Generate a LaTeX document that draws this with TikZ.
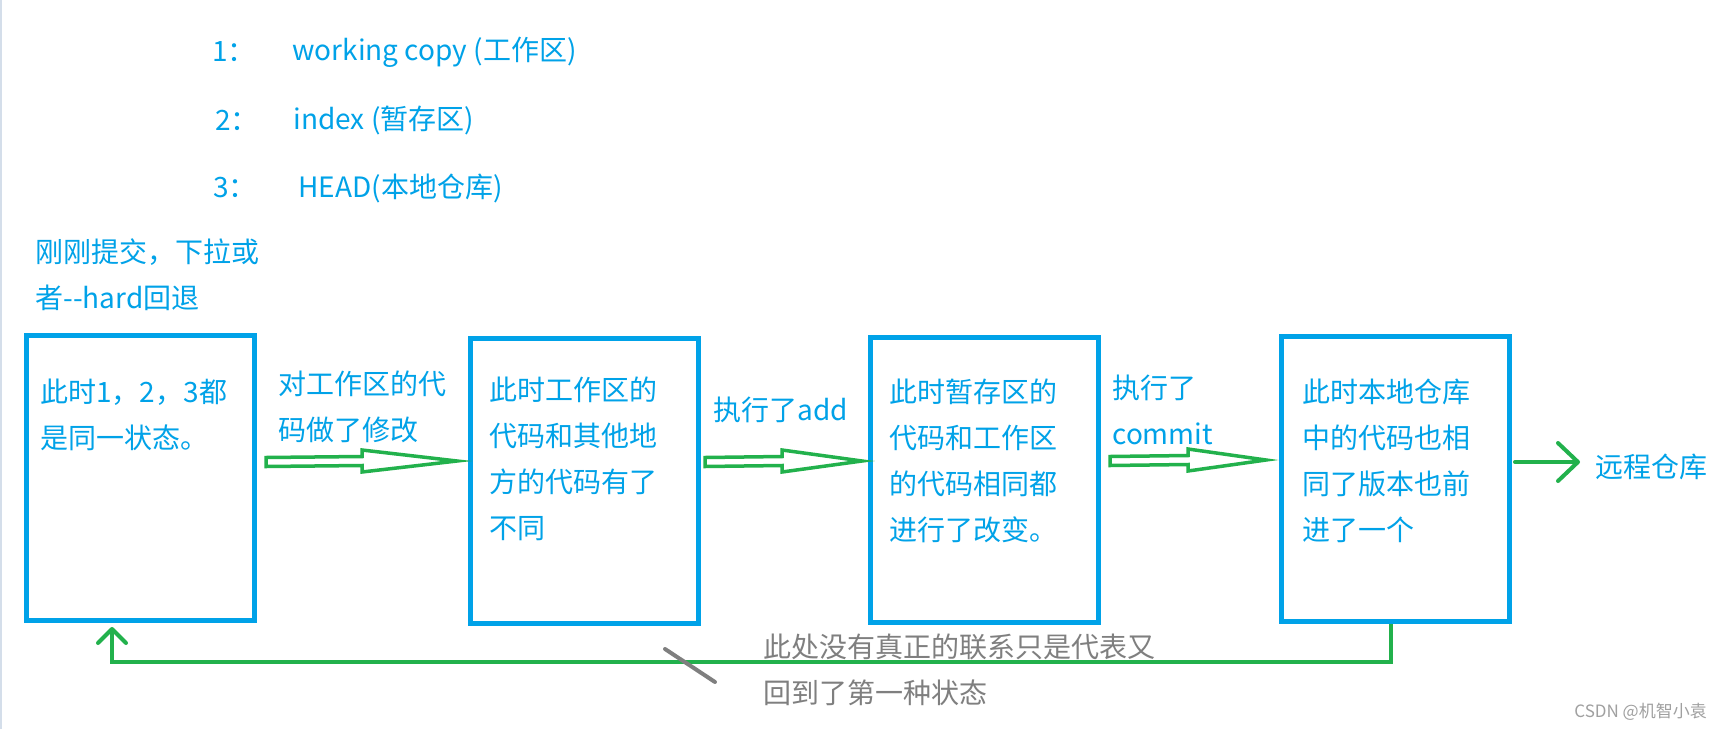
\documentclass[tikz,border=0pt]{standalone}
\usepackage{fontspec}
\setmainfont{Noto Sans CJK SC}
\usepackage{xcolor}
\usetikzlibrary{arrows.meta,calc}

\definecolor{boxblue}{RGB}{0,162,232}
\definecolor{arrowgreen}{RGB}{34,177,76}
\definecolor{notegray}{RGB}{127,127,127}
\definecolor{markgray}{RGB}{160,160,160}
\definecolor{edgegray}{RGB}{212,222,234}

\begin{document}
\begin{tikzpicture}[
  x=0.5pt, y=-0.5pt,
  box/.style={draw=boxblue, line width=2.5pt, minimum width=114pt, minimum height=142.5pt, inner sep=0pt},
  txt/.style={text=boxblue, font=\fontsize{14}{23}\selectfont, inner sep=0pt, align=left, anchor=west},
  grey/.style={txt, text=notegray},
  hollow/.style={draw=arrowgreen, line width=1.75pt, to path={
    ($(\tikztostart)+(0,-4.5)$) -- ($(\tikztotarget)+(-#1,-4.5)$) -- ($(\tikztotarget)+(-#1,-11)$)
    -- (\tikztotarget) -- ($(\tikztotarget)+(-#1,11)$) -- ($(\tikztotarget)+(-#1,4.5)$)
    -- ($(\tikztostart)+(0,4.5)$) -- cycle}},
  arr/.style={draw=arrowgreen, line width=2pt, line cap=round, -{Straight Barb[length=10pt, width=19pt, round]}},
  back/.style={draw=arrowgreen, line width=2pt, -{Straight Barb[length=7pt, width=14pt, round]}},
  slash/.style={draw=notegray, line width=2pt, line cap=round}
]
\useasboundingbox[fill=white] (0,0) rectangle (1726,729);
\draw[edgegray, line width=0.75pt] (1,0) -- (1,729);

% legend
\node[txt] (k1) at (212,52) {1：};
\node[txt] (w1) at (292,52) {working copy (工作区)};
\node[txt] (k2) at (215,120) {2：};
\node[txt] (w2) at (293,120) {index (暂存区)};
\node[txt] (k3) at (213,188) {3：};
\node[txt] (w3) at (298,188) {HEAD(本地仓库)};
\node[txt] (hint) at (35,274.5) {刚刚提交，下拉或\\者-\kern0pt-hard回退};

% states
\node[box] (b1) at (140.5,478) {};
\node[box] (b2) at (584.5,481) {};
\node[box] (b3) at (984,480) {};
\node[box] (b4) at (1395.5,479) {};

\node[txt] (s1) at (40,415) {此时1，2，3都\\是同一状态。};
\node[txt] (s2) at (489,459) {此时工作区的\\代码和其他地\\方的代码有了\\不同};
\node[txt] (s3) at (889,461) {此时暂存区的\\代码和工作区\\的代码相同都\\进行了改变。};
\node[txt] (s4) at (1302,461) {此时本地仓库\\中的代码也相\\同了版本也前\\进了一个};

% steps
\node[txt] (l1) at (278,406.5) {对工作区的代\\码做了修改};
\node[txt] (l2) at (713,410) {执行了add};
\node[txt] (l3) at (1112,410) {执行了\\commit};
\node[txt] (far) at (1595,467) {远程仓库};
\node[grey] (gn) at (763,670) {此处没有真正的联系只是代表又\\回到了第一种状态};
\node[txt, text=markgray, font=\fontsize{8.5}{10}\selectfont] (wm) at (1574,712) {CSDN @机智小袁};

\coordinate (h1s) at ([shift={(9,-16)}]b1.east);
\coordinate (h1e) at ([shift={(-11,-20)}]b2.west);
\coordinate (h2s) at ([shift={(4,-19)}]b2.east);
\coordinate (h2e) at ([shift={(-5.5,-19)}]b3.west);
\coordinate (h3s) at ([shift={(9.5,-19)}]b3.east);
\coordinate (h3e) at ([shift={(-13,-19)}]b4.west);

\draw[hollow=95] (h1s) to (h1e);
\draw[hollow=80] (h2s) to (h2e);
\draw[hollow=78] (h3s) to (h3e);
\draw[arr] ([shift={(3,-17)}]b4.east) -- ([shift={(-15,-5)}]far.west);

% back to the first state
\draw[back] ([shift={(-4.5,0)}]b4.south) -- ++(0,38) -| ([shift={(-28.5,4)}]b1.south);
\draw[slash] (665,649) -- (715,682);
\end{tikzpicture}
\end{document}
